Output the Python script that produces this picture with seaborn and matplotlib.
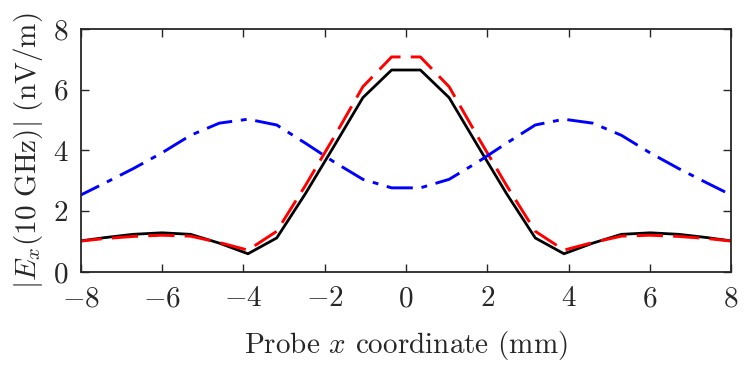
import matplotlib
matplotlib.use("Agg")
import matplotlib.pyplot as plt
import seaborn as sns
import pandas as pd

# probe positions (mm), sampled every ~0.707 mm
probe_x = [-8.132, -7.425, -6.718, -6.010, -5.303, -4.596, -3.889, -3.182,
           -2.475, -1.768, -1.061, -0.354, 0.354, 1.061, 1.768, 2.475,
           3.182, 3.889, 4.596, 5.303, 6.010, 6.718, 7.425, 8.132]

# |Ex| at 10 GHz (nV/m), left half then mirrored
black_left = [1.00, 1.13, 1.24, 1.29, 1.24, 0.95, 0.60, 1.12, 2.58, 4.15, 5.74, 6.65]
red_left = [1.00, 1.10, 1.17, 1.21, 1.18, 0.97, 0.72, 1.34, 2.85, 4.45, 6.10, 7.08]
blue_left = [2.45, 2.92, 3.40, 3.92, 4.50, 4.90, 5.03, 4.84, 4.24, 3.62, 3.05, 2.77]

black_vals = black_left + black_left[::-1]
red_vals = red_left + red_left[::-1]
blue_vals = blue_left + blue_left[::-1]

df = pd.DataFrame({"x": probe_x, "black": black_vals, "red": red_vals, "blue": blue_vals})

sns.set_style("ticks")
plt.rcParams["font.family"] = "serif"
plt.rcParams["font.serif"] = ["cmr10", "DejaVu Serif"]
plt.rcParams["mathtext.fontset"] = "cm"
plt.rcParams["axes.formatter.use_mathtext"] = True
plt.rcParams["axes.unicode_minus"] = True

fig = plt.figure(figsize=(7.47, 3.68), dpi=100)
ax = fig.add_axes([0.1084, 0.2609, 0.8702, 0.6603])

sns.lineplot(data=df, x="x", y="black", ax=ax, color="black", lw=2.0, sort=False)
sns.lineplot(data=df, x="x", y="red", ax=ax, color="#ff0000", lw=2.1, sort=False)
ax.lines[-1].set_dashes((9.0, 3.5))
sns.lineplot(data=df, x="x", y="blue", ax=ax, color="#0000ff", lw=2.1, sort=False)
ax.lines[-1].set_dashes((9.0, 3.0, 2.0, 3.0))

ax.set_xlim(-8, 8)
ax.set_ylim(0, 8)
ax.set_xticks(range(-8, 9, 2))
ax.set_yticks(range(0, 9, 2))
ax.tick_params(direction="in", top=True, right=True, length=6, width=1.0,
               labelsize=21)
ax.tick_params(axis="x", pad=10)
ax.tick_params(axis="y", pad=9)
for s in ax.spines.values():
    s.set_linewidth(1.3)
    s.set_visible(True)

ax.set_xlabel(r"Probe $x$ coordinate (mm)", fontsize=21, labelpad=12)
ax.set_ylabel(r"$|E_x(10\ \mathrm{GHz})|\ \mathrm{(nV/m)}$", fontsize=21, labelpad=6)

fig.savefig("out.png", dpi=100)
